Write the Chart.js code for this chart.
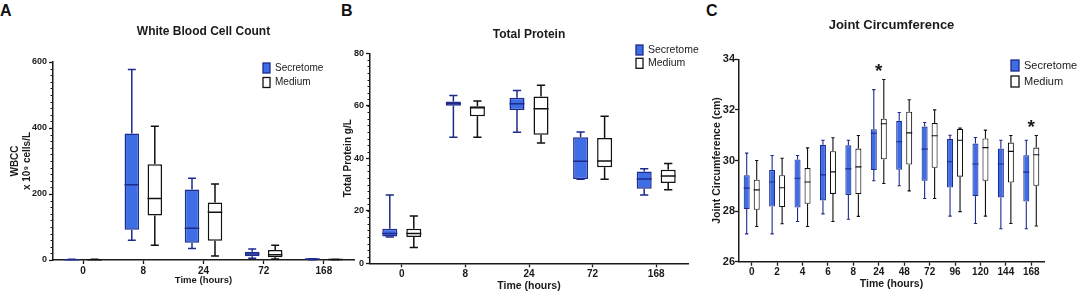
<!DOCTYPE html>
<html>
<head>
<meta charset="utf-8">
<script src="https://cdn.jsdelivr.net/npm/chart.js@4.4.1/dist/chart.umd.min.js"></script>
<style>
  body { margin: 0; background: #fff; width: 1084px; height: 297px; position: relative; overflow: hidden; font-family: 'Liberation Sans', Arial, sans-serif; }
  canvas { position: absolute; top: 0; }
  .letter { position: absolute; top: 3px; font-size: 16px; line-height: 1; font-weight: bold; color: #111; }
</style>
</head>
<body>
<div class="letter" style="left:0px">A</div>
<div class="letter" style="left:341px">B</div>
<div class="letter" style="left:706px">C</div>
<canvas id="wbc" width="360" height="297" style="left:0px"></canvas>
<canvas id="protein" width="380" height="297" style="left:335px"></canvas>
<canvas id="joint" width="394" height="297" style="left:690px"></canvas>
<script>
// five-number summaries: [min, q1, median, q3, max]
const hoursShort = ['0', '8', '24', '72', '168'];
const hoursLong = ['0', '2', '4', '6', '8', '24', '48', '72', '96', '120', '144', '168'];

const wbcSecretome = [[0.5, 1, 1, 1.5, 2], [60, 92, 228, 383, 577], [35, 52, 96, 214, 248], [5, 11, 18, 25, 33], [1, 2, 3, 3.5, 4]];
const wbcMedium = [[0.5, 1, 1, 1.5, 2], [45, 135, 186, 290, 405], [12, 58, 145, 174, 230], [3, 8, 16, 30, 45], [0.5, 1, 1.5, 2, 2.5]];

const proteinSecretome = [[10, 10.2, 11.4, 13.2, 26], [48, 60, 60.8, 61.6, 63.9], [49.9, 58.4, 60.8, 63.1, 65.8], [32, 32.1, 38.9, 48, 50], [26, 28.4, 32.1, 35, 36]];
const proteinMedium = [[6, 10, 11.4, 13.2, 18], [48, 56, 59.3, 59.8, 61.8], [45.8, 49, 58.9, 63.5, 67.8], [32, 36.6, 39, 47.7, 56], [28, 30.6, 33.3, 35.6, 38]];

const jointSecretome = [
  [27.1, 28.08, 28.91, 29.42, 30.29], [27.1, 28.18, 29.15, 29.62, 30.2], [27.59, 28.14, 29.3, 30.04, 30.2],
  [27.89, 28.42, 29.43, 30.62, 30.8], [27.68, 28.64, 29.67, 30.6, 30.8], [29.2, 29.62, 31.08, 31.24, 32.8],
  [29.0, 29.63, 30.74, 31.57, 31.9], [28.5, 29.2, 30.45, 31.34, 31.5], [27.8, 28.93, 29.95, 30.85, 31.0],
  [27.51, 28.59, 29.86, 30.67, 30.91], [27.3, 28.54, 29.86, 30.47, 30.8], [27.3, 28.38, 29.54, 30.21, 30.8]
];
const jointMedium = [
  [27.39, 28.05, 28.84, 29.24, 30.0], [27.5, 28.16, 28.92, 29.42, 30.09], [27.39, 28.29, 29.15, 29.7, 30.5],
  [27.59, 28.68, 29.55, 30.37, 30.9], [27.79, 28.67, 29.75, 30.47, 30.99], [29.09, 30.05, 31.45, 31.65, 33.2],
  [28.8, 29.84, 31.09, 31.93, 32.4], [28.5, 29.71, 30.98, 31.48, 32.0], [27.98, 29.36, 30.8, 31.25, 31.28],
  [27.8, 29.2, 30.51, 30.87, 31.2], [27.51, 29.13, 30.36, 30.71, 30.99], [27.41, 29.0, 30.23, 30.51, 30.99]
];
const jointSignificant = ['24', '168'];

const FONT = "'Liberation Sans', Arial, sans-serif";
const INK = '#1a1a1a';
const BLUE = '#3e6ee6';
const NAVY = '#1e2a8c';
Chart.defaults.font.family = FONT;
Chart.defaults.color = INK;

const boxPlot = {
  id: 'boxPlot',
  afterDatasetsDraw(chart, args, opts) {
    const ctx = chart.ctx;
    const y = chart.scales.y;
    chart.data.datasets.forEach((ds, i) => {
      chart.getDatasetMeta(i).data.forEach((bar, j) => {
        const s = ds.stats[j];
        const { x, width } = bar.getProps(['x', 'width'], true);
        const cap = width * 0.55;
        const p = s.map(v => y.getPixelForValue(v));
        ctx.save();
        ctx.strokeStyle = ds.borderColor;
        ctx.lineWidth = opts.lineWidth;
        ctx.beginPath();
        ctx.moveTo(x, p[0]); ctx.lineTo(x, p[1]);
        ctx.moveTo(x, p[3]); ctx.lineTo(x, p[4]);
        ctx.moveTo(x - cap / 2, p[0]); ctx.lineTo(x + cap / 2, p[0]);
        ctx.moveTo(x - cap / 2, p[4]); ctx.lineTo(x + cap / 2, p[4]);
        ctx.moveTo(x - width / 2, p[2]); ctx.lineTo(x + width / 2, p[2]);
        ctx.stroke();
        ctx.restore();
      });
    });
  },
  afterDraw(chart, args, opts) {
    const ctx = chart.ctx;
    const y = chart.scales.y;
    ctx.save();
    // minor ticks on the value axis
    if (opts.minor) {
      ctx.strokeStyle = INK;
      ctx.lineWidth = 1;
      ctx.beginPath();
      for (let v = y.min; v <= y.max + 1e-9; v += opts.minor) {
        const py = Math.round(y.getPixelForValue(v)) + 0.5;
        ctx.moveTo(y.right - 2.5, py); ctx.lineTo(y.right, py);
      }
      ctx.stroke();
    }
    // legend
    const lg = opts.legend;
    chart.data.datasets.forEach((ds, i) => {
      const top = lg.y + i * lg.gap;
      ctx.fillStyle = ds.backgroundColor;
      ctx.fillRect(lg.x, top, lg.w, lg.h);
      ctx.strokeStyle = ds.legendBorder;
      ctx.lineWidth = 1.3;
      ctx.strokeRect(lg.x, top, lg.w, lg.h);
      ctx.fillStyle = INK;
      ctx.font = lg.size + 'px ' + FONT;
      ctx.textBaseline = 'middle';
      ctx.fillText(ds.label, lg.x + lg.w + 5, top + lg.h / 2);
    });
    // significance stars
    if (opts.stars) {
      const x = chart.scales.x;
      ctx.fillStyle = INK;
      ctx.font = 'bold 19px ' + FONT;
      ctx.textAlign = 'center';
      ctx.textBaseline = 'alphabetic';
      opts.stars.forEach(lbl => {
        const j = chart.data.labels.indexOf(lbl);
        const top = Math.max(...chart.data.datasets.map(ds => ds.stats[j][4]));
        ctx.fillText('*', x.getPixelForValue(j), y.getPixelForValue(top) - 13 + 0.56 * 19);
      });
    }
    ctx.restore();
  }
};

function boxPanel(id, p) {
  const H = 297;
  const W = document.getElementById(id).width;
  const mk = (label, stats, fill, border) => ({
    label, stats,
    data: stats.map(s => [s[1], s[3]]),
    backgroundColor: fill,
    borderColor: border,
    legendBorder: border,
    borderWidth: p.lineWidth,
    borderSkipped: false,
    categoryPercentage: p.cat,
    barPercentage: p.bar
  });
  return new Chart(document.getElementById(id), {
    type: 'bar',
    data: {
      labels: p.labels,
      datasets: [mk('Secretome', p.secretome, BLUE, NAVY), mk('Medium', p.medium, '#ffffff', '#111111')]
    },
    options: {
      responsive: false,
      animation: false,
      devicePixelRatio: 1,
      layout: { padding: { left: 0, top: 0, right: W - p.area.right, bottom: 0 } },
      plugins: {
        legend: { display: false },
        tooltip: { enabled: false },
        title: {
          display: true, text: p.title, fullSize: false, color: INK,
          font: { size: p.titleSize, weight: 'bold', lineHeight: 1.2 },
          padding: { top: p.titleY - 0.6 * p.titleSize, bottom: p.area.top - p.titleY - 0.6 * p.titleSize }
        },
        boxPlot: { lineWidth: p.lineWidth, minor: p.minor, legend: p.legend, stars: p.stars }
      },
      scales: {
        x: {
          offset: true,
          grid: { offset: false, drawOnChartArea: false, tickLength: 4, tickColor: INK, tickWidth: 1.3 },
          border: { color: INK, width: 1.5 },
          ticks: { font: { size: p.xTickSize, weight: 'bold' }, color: INK, padding: 1, maxRotation: 0 },
          title: {
            display: true, text: 'Time (hours)', color: INK,
            font: { size: p.xTitleSize, weight: 'bold', lineHeight: 1.2 },
            padding: { top: 0, bottom: H - p.xTitleY - 0.6 * p.xTitleSize }
          },
          afterFit: s => { s.height = H - p.area.bottom; }
        },
        y: {
          min: p.yMin, max: p.yMax,
          ticks: { stepSize: p.yStep, font: { size: p.yTickSize, weight: 'bold' }, color: INK, padding: p.yTickPad },
          grid: { drawOnChartArea: false, tickLength: 4, tickColor: INK, tickWidth: 1.3 },
          border: { color: INK, width: 1.5 },
          title: {
            display: true, text: p.yTitle, color: INK,
            font: { size: p.yTitleSize, weight: 'bold', lineHeight: 1.25 },
            padding: { top: p.yTitleX - 0.625 * p.yTitleSize, bottom: 0 }
          },
          afterFit: s => { s.width = p.area.left; }
        }
      }
    },
    plugins: [boxPlot]
  });
}

boxPanel('wbc', {
  labels: hoursShort, secretome: wbcSecretome, medium: wbcMedium,
  area: { left: 53, top: 62, right: 354, bottom: 260 },
  cat: 0.764, bar: 0.63, lineWidth: 1.5,
  title: 'White Blood Cell Count', titleSize: 12, titleY: 32,
  yMin: 0, yMax: 600, yStep: 200, minor: 20, yTickSize: 9, yTickPad: 2,
  yTitle: ['WBCC', 'x 10⁹ cells/L'], yTitleSize: 10, yTitleX: 15,
  xTickSize: 10, xTitleSize: 9.5, xTitleY: 280,
  legend: { x: 263, y: 63, w: 7, h: 10, gap: 14.5, size: 10 }
});

boxPanel('protein', {
  labels: hoursShort, secretome: proteinSecretome, medium: proteinMedium,
  area: { left: 35, top: 53.3, right: 353, bottom: 263.3 },
  cat: 0.755, bar: 0.625, lineWidth: 1.5,
  title: 'Total Protein', titleSize: 12, titleY: 35,
  yMin: 0, yMax: 80, yStep: 20, minor: 2.5, yTickSize: 9, yTickPad: 2,
  yTitle: 'Total Protein g/L', yTitleSize: 10, yTitleX: 13,
  xTickSize: 10, xTitleSize: 10.5, xTitleY: 285.7,
  legend: { x: 301, y: 45, w: 7, h: 10, gap: 13.3, size: 10.5 }
});

boxPanel('joint', {
  labels: hoursLong, secretome: jointSecretome, medium: jointMedium,
  area: { left: 49, top: 59.3, right: 354, bottom: 261.7 },
  cat: 0.787, bar: 0.6, lineWidth: 1.1,
  title: 'Joint Circumference', titleSize: 13, titleY: 25,
  yMin: 26, yMax: 34, yStep: 2, minor: 0, yTickSize: 11, yTickPad: 0,
  yTitle: 'Joint Circumference (cm)', yTitleSize: 10.5, yTitleX: 27,
  xTickSize: 10, xTitleSize: 10.5, xTitleY: 284,
  legend: { x: 321, y: 60, w: 8, h: 11, gap: 16, size: 11 },
  stars: jointSignificant
});
</script>
</body>
</html>
